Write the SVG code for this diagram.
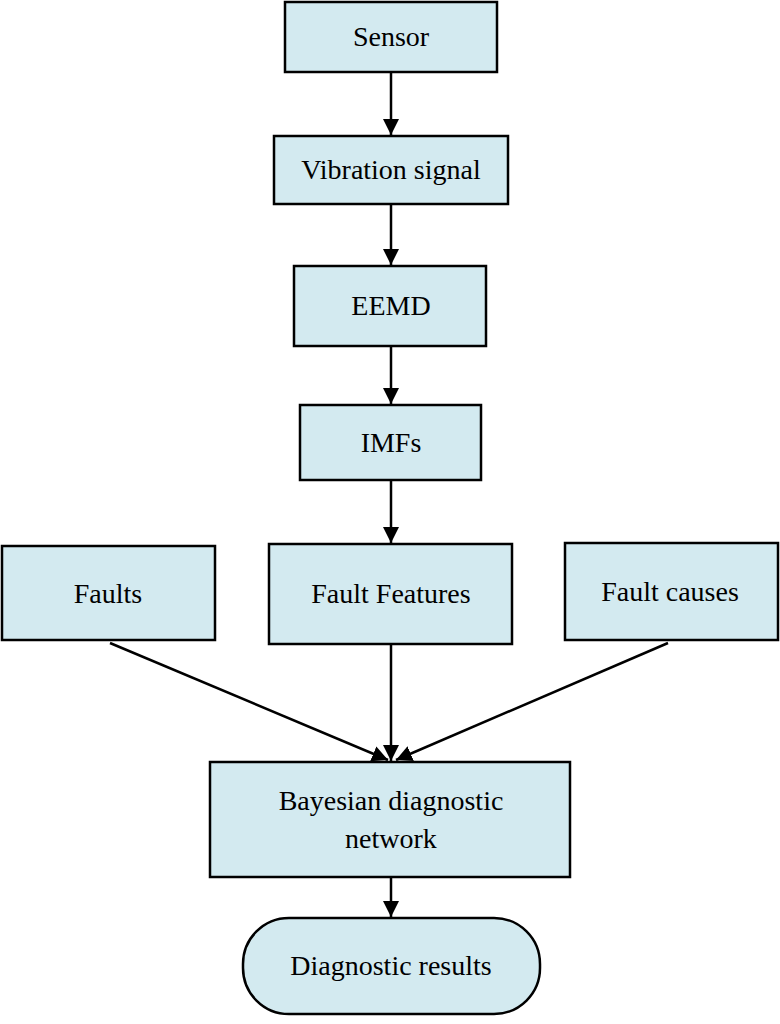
<svg xmlns="http://www.w3.org/2000/svg" width="780" height="1024" viewBox="0 0 780 1024">
<style>
.b{fill:#d3eaf0;stroke:#000;stroke-width:2.5}
.t{font-family:"Liberation Serif",serif;font-size:28px;text-anchor:middle;fill:#000}
.c{stroke:#000;stroke-width:2.5;fill:none;marker-end:url(#a)}
</style>
<defs><marker id="a" markerWidth="10" markerHeight="10" refX="9" refY="5" orient="auto" markerUnits="userSpaceOnUse" viewBox="0 0 10 10"><path d="M0,0L10,5L0,10z" fill="#000"/></marker>
<marker id="a2" viewBox="0 0 10 10" refX="10" refY="5" markerWidth="16" markerHeight="16" markerUnits="userSpaceOnUse" orient="auto"><path d="M0,0L10,5L0,10z" fill="#000"/></marker></defs>
<g id="connectors">
<line class="c" style="marker-end:url(#a2)" x1="391" y1="72" x2="391" y2="135"/>
<line class="c" style="marker-end:url(#a2)" x1="391" y1="204" x2="391" y2="265"/>
<line class="c" style="marker-end:url(#a2)" x1="391" y1="346" x2="391" y2="404"/>
<line class="c" style="marker-end:url(#a2)" x1="391" y1="480" x2="391" y2="543"/>
<line class="c" style="marker-end:url(#a2)" x1="391" y1="644" x2="391" y2="761"/>
<line class="c" style="marker-end:url(#a2)" x1="110" y1="643" x2="388" y2="760"/>
<line class="c" style="marker-end:url(#a2)" x1="668" y1="643" x2="396" y2="760"/>
<line class="c" style="marker-end:url(#a2)" x1="391" y1="877" x2="391" y2="917"/>
</g>
<g id="sensor"><rect class="b" x="285" y="2" width="212" height="70"/><text class="t" x="391" y="46">Sensor</text></g>
<g id="vibration"><rect class="b" x="274" y="136" width="234" height="68"/><text class="t" x="391" y="179">Vibration signal</text></g>
<g id="eemd"><rect class="b" x="294" y="266" width="192" height="80"/><text class="t" x="391" y="315">EEMD</text></g>
<g id="imfs"><rect class="b" x="300" y="405" width="181" height="75"/><text class="t" x="391" y="452">IMFs</text></g>
<g id="faults"><rect class="b" x="2" y="546" width="213" height="94"/><text class="t" x="108" y="603">Faults</text></g>
<g id="features"><rect class="b" x="269" y="544" width="243" height="100"/><text class="t" x="391" y="603">Fault Features</text></g>
<g id="causes"><rect class="b" x="565" y="543" width="213" height="97"/><text class="t" x="670" y="601">Fault causes</text></g>
<g id="bayes"><rect class="b" x="210" y="762" width="360" height="115"/><text class="t" x="391" y="810">Bayesian diagnostic</text><text class="t" x="391" y="848">network</text></g>
<g id="results"><rect class="b" x="243" y="918" width="297" height="96" rx="46"/><text class="t" x="391" y="975">Diagnostic results</text></g>
</svg>
